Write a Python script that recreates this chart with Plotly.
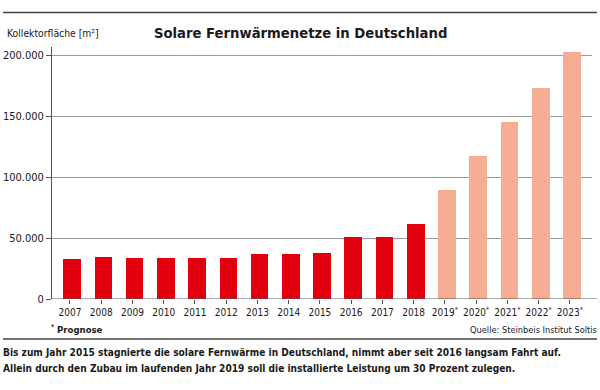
import plotly.graph_objects as go

years = ["2007", "2008", "2009", "2010", "2011", "2012", "2013", "2014", "2015",
         "2016", "2017", "2018", "2019", "2020", "2021", "2022", "2023"]
forecast = [False] * 12 + [True] * 5
values = [32500, 34200, 34000, 34000, 34000, 34000, 36500, 36500, 38000,
          51000, 51000, 61500, 89300, 117200, 145300, 172700, 202700]
y_ticks = [0, 50000, 100000, 150000, 200000]
y_tick_labels = ["0", "50.000", "100.000", "150.000", "200.000"]

RED = "#E2000F"
SALMON = "#F5AE94"
FONT = "DejaVu Sans Condensed"

x_labels = [y + ("<sup>*</sup>" if f else "") for y, f in zip(years, forecast)]
colors = [SALMON if f else RED for f in forecast]
idx = list(range(len(years)))

fig = go.Figure()
fig.add_trace(go.Bar(
    x=idx, y=values, marker=dict(color=colors, line=dict(width=0)),
    width=0.566, offset=-0.283 + 0.07, hoverinfo="skip",
))

top_px, bottom_px = 47, 299
ymax = (bottom_px - top_px) / 244 * 200000

fig.update_layout(
    width=600, height=390,
    margin=dict(l=52, r=8, t=top_px, b=390 - bottom_px, autoexpand=False),
    paper_bgcolor="white", plot_bgcolor="white",
    showlegend=False, bargap=0,
    font=dict(family=FONT, size=11, color="#1a1a1a"),
    xaxis=dict(
        range=[-0.575, 16.71], tickmode="array", tickvals=idx, ticktext=x_labels,
        showgrid=False, zeroline=False, showline=False, automargin=False,
        tickangle=0,
        ticks="outside", ticklen=4, tickcolor="#555", tickwidth=1,
        tickfont=dict(family=FONT, size=10, color="#1a1a1a"),
    ),
    yaxis=dict(
        range=[0, ymax], tickmode="array", tickvals=y_ticks, ticktext=y_tick_labels,
        showgrid=True, gridcolor="#999999", gridwidth=1, zeroline=False,
        showline=True, linecolor="#555", linewidth=1, automargin=False,
        ticks="outside", ticklen=5, tickcolor="#555", tickwidth=1,
        tickfont=dict(family=FONT, size=11, color="#1a1a1a"),
    ),
    shapes=[
        dict(type="line", xref="paper", yref="y", x0=0, x1=(597 - 52) / 540, y0=0, y1=0,
             line=dict(color="#555", width=1.2)),
        dict(type="line", xref="paper", yref="paper", x0=-49 / 540, x1=545 / 540,
             y0=(bottom_px - 12.5) / 252, y1=(bottom_px - 12.5) / 252,
             line=dict(color="#444", width=1.5)),
        dict(type="line", xref="paper", yref="paper", x0=-49 / 540, x1=545 / 540,
             y0=(bottom_px - 339) / 252, y1=(bottom_px - 339) / 252,
             line=dict(color="#444", width=1.5)),
    ],
)

def ann(text, x_px, y_px, xanchor="left", size=11, bold=False):
    t = f"<b>{text}</b>" if bold else text
    fig.add_annotation(
        text=t, xref="paper", yref="paper",
        x=(x_px - 52) / 540, y=(bottom_px - y_px) / 252,
        xanchor=xanchor, yanchor="middle", showarrow=False,
        font=dict(family=FONT, size=size, color="#1a1a1a"),
    )

ann("Solare Fernwärmenetze in Deutschland", 300, 33, xanchor="center", size=14.7, bold=True)
ann("Kollektorfläche [m²]", 5, 33, size=10.3)
ann("<sup>*</sup> Prognose", 49, 329, size=9.5, bold=True)
ann("Quelle: Steinbeis Institut Soltis", 599, 329, xanchor="right", size=9.2)
ann("Bis zum Jahr 2015 stagnierte die solare Fernwärme in Deutschland, nimmt aber seit 2016 langsam Fahrt auf.",
    1, 352, size=10.1, bold=True)
ann("Allein durch den Zubau im laufenden Jahr 2019 soll die installierte Leistung um 30 Prozent zulegen.",
    1, 368, size=10.1, bold=True)

fig.write_html("out.html", post_script="document.body.style.margin='0';",
               config={"displayModeBar": False})
